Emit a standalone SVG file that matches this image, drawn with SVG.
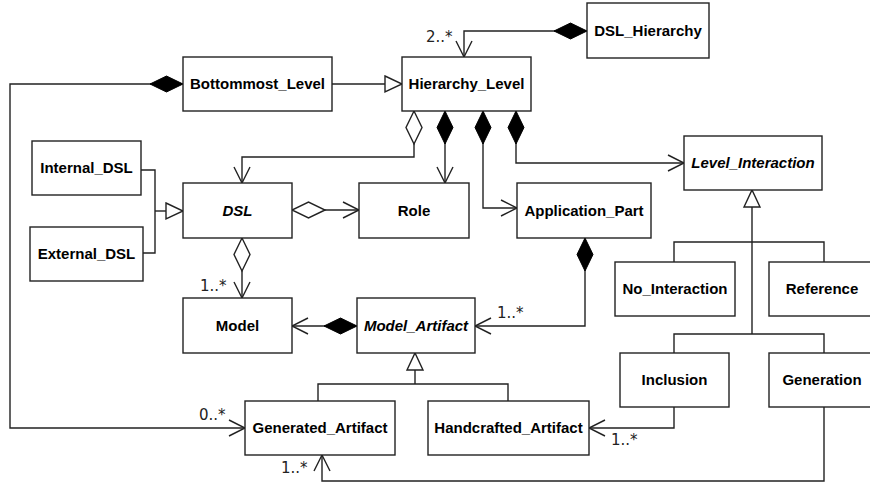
<svg xmlns="http://www.w3.org/2000/svg" width="870" height="483" viewBox="0 0 870 483">
<style>
.box{fill:#fff;stroke:#222;stroke-width:1.4}
.lbl{font-family:"Liberation Sans",Arial,sans-serif;font-weight:bold;font-size:15px;fill:#000;text-anchor:middle}
.it{font-style:italic}
.mul{font-family:"DejaVu Sans",sans-serif;font-size:15px;fill:#222}
.c{fill:none;stroke:#222;stroke-width:1.4}
</style>
<defs>
<marker id="arrow" viewBox="0 0 16 16" refX="16" refY="8" markerWidth="16" markerHeight="16" markerUnits="userSpaceOnUse" orient="auto" overflow="visible"><path d="M0,0 L16,8 L0,16" fill="none" stroke="#222" stroke-width="1.4"/></marker>
<marker id="tri" viewBox="0 0 17 16" refX="17" refY="8" markerWidth="17" markerHeight="16" markerUnits="userSpaceOnUse" orient="auto" overflow="visible"><path d="M0,0 L17,8 L0,16 Z" fill="#fff" stroke="#222" stroke-width="1.4"/></marker>
<marker id="diamF" viewBox="0 0 33 16" refX="33" refY="8" markerWidth="33" markerHeight="16" markerUnits="userSpaceOnUse" orient="auto-start-reverse" overflow="visible"><path d="M0,8 L16.5,0 L33,8 L16.5,16 Z" fill="#000" stroke="#000" stroke-width="1"/></marker>
<marker id="diamO" viewBox="0 0 33 16" refX="33" refY="8" markerWidth="33" markerHeight="16" markerUnits="userSpaceOnUse" orient="auto-start-reverse" overflow="visible"><path d="M0,8 L16.5,0 L33,8 L16.5,16 Z" fill="#fff" stroke="#222" stroke-width="1.4"/></marker>
</defs>
<g id="connectors">
<path class="c" d="M587,31 H464 V57" marker-start="url(#diamF)" marker-end="url(#arrow)"/>
<path class="c" d="M332,84 H402" marker-end="url(#tri)"/>
<path class="c" d="M183,84 H10 V428 H245" marker-start="url(#diamF)" marker-end="url(#arrow)"/>
<path class="c" d="M414,111 V157 H242 V183" marker-start="url(#diamO)" marker-end="url(#arrow)"/>
<path class="c" d="M445,111 V183" marker-start="url(#diamF)" marker-end="url(#arrow)"/>
<path class="c" d="M483,111 V208 H517" marker-start="url(#diamF)" marker-end="url(#arrow)"/>
<path class="c" d="M516,111 V163 H684" marker-start="url(#diamF)" marker-end="url(#arrow)"/>
<path class="c" d="M141,170 H155 V253 H143"/>
<path class="c" d="M155,211 H183" marker-end="url(#tri)"/>
<path class="c" d="M292,210 H359" marker-start="url(#diamO)" marker-end="url(#arrow)"/>
<path class="c" d="M242,238 V298" marker-start="url(#diamO)" marker-end="url(#arrow)"/>
<path class="c" d="M357,326 H292" marker-start="url(#diamF)" marker-end="url(#arrow)"/>
<path class="c" d="M585,238 V326 H475" marker-start="url(#diamF)" marker-end="url(#arrow)"/>
<path class="c" d="M318,401 V384 H508 V401"/>
<path class="c" d="M415,384 V353" marker-end="url(#tri)"/>
<path class="c" d="M674,262 V242 H824 V262"/>
<path class="c" d="M752,334 V190" marker-end="url(#tri)"/>
<path class="c" d="M674,353 V334 H824 V353"/>
<path class="c" d="M674,407 V428 H589" marker-end="url(#arrow)"/>
<path class="c" d="M824,407 V481 H322 V455" marker-end="url(#arrow)"/>
<text class="mul" x="426" y="42">2..*</text>
<text class="mul" x="200" y="291">1..*</text>
<text class="mul" x="199" y="420">0..*</text>
<text class="mul" x="497" y="318">1..*</text>
<text class="mul" x="611" y="445">1..*</text>
<text class="mul" x="281" y="473">1..*</text>
</g>
<g id="DSL_Hierarchy"><rect class="box" x="587" y="3" width="122" height="55"/><text class="lbl" x="648" y="36">DSL_Hierarchy</text></g>
<g id="Bottommost_Level"><rect class="box" x="183" y="57" width="149" height="54"/><text class="lbl" x="257.5" y="89">Bottommost_Level</text></g>
<g id="Hierarchy_Level"><rect class="box" x="402" y="57" width="129" height="54"/><text class="lbl" x="466.5" y="89">Hierarchy_Level</text></g>
<g id="Internal_DSL"><rect class="box" x="32" y="141" width="109" height="54"/><text class="lbl" x="86.5" y="173">Internal_DSL</text></g>
<g id="External_DSL"><rect class="box" x="30" y="227" width="113" height="54"/><text class="lbl" x="86.5" y="259">External_DSL</text></g>
<g id="DSL"><rect class="box" x="183" y="183" width="109" height="55"/><text class="lbl it" x="237.5" y="215.5">DSL</text></g>
<g id="Role"><rect class="box" x="359" y="183" width="110" height="55"/><text class="lbl" x="414" y="215.5">Role</text></g>
<g id="Application_Part"><rect class="box" x="517" y="183" width="134" height="55"/><text class="lbl" x="584" y="215.5">Application_Part</text></g>
<g id="Level_Interaction"><rect class="box" x="684" y="136" width="138" height="54"/><text class="lbl it" x="753" y="168">Level_Interaction</text></g>
<g id="No_Interaction"><rect class="box" x="615" y="262" width="120" height="54"/><text class="lbl" x="675" y="294">No_Interaction</text></g>
<g id="Reference"><rect class="box" x="769" y="262" width="110" height="54"/><text class="lbl" x="822" y="294">Reference</text></g>
<g id="Model"><rect class="box" x="183" y="298" width="109" height="55"/><text class="lbl" x="237.5" y="330.5">Model</text></g>
<g id="Model_Artifact"><rect class="box" x="357" y="298" width="118" height="55"/><text class="lbl it" x="416" y="330.5">Model_Artifact</text></g>
<g id="Inclusion"><rect class="box" x="620" y="353" width="109" height="54"/><text class="lbl" x="674.5" y="385">Inclusion</text></g>
<g id="Generation"><rect class="box" x="769" y="353" width="110" height="54"/><text class="lbl" x="822" y="385">Generation</text></g>
<g id="Generated_Artifact"><rect class="box" x="245" y="401" width="150" height="54"/><text class="lbl" x="320" y="433">Generated_Artifact</text></g>
<g id="Handcrafted_Artifact"><rect class="box" x="428" y="401" width="161" height="54"/><text class="lbl" x="508.5" y="433">Handcrafted_Artifact</text></g>
</svg>
